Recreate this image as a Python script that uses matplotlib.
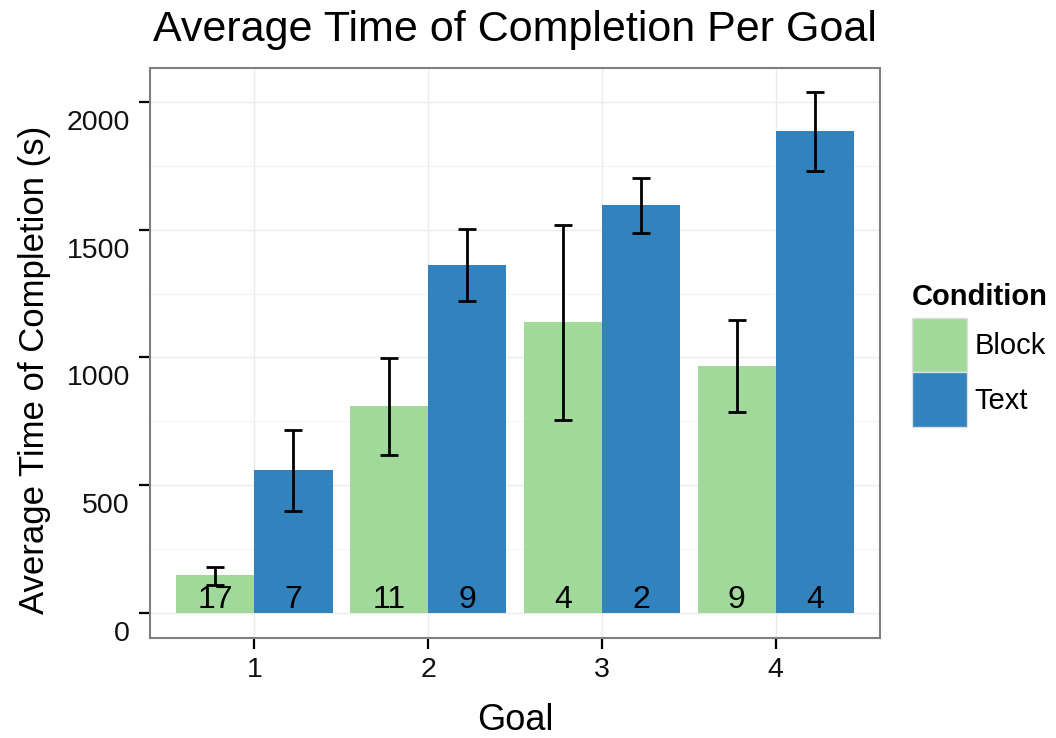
import matplotlib
matplotlib.use("Agg")
import matplotlib.pyplot as plt
import matplotlib.transforms as mtransforms
import numpy as np
from matplotlib.patches import Patch

plt.rcParams['font.family'] = ['Liberation Sans', 'DejaVu Sans']

goals = ["1", "2", "3", "4"]
conditions = ["Block", "Text"]
block_mean = [149, 810, 1139, 967]
block_lo = [110, 618, 755, 787]
block_hi = [180, 998, 1519, 1147]
text_mean = [560, 1362, 1597, 1887]
text_lo = [399, 1221, 1487, 1730]
text_hi = [716, 1503, 1703, 2039]
block_n = [17, 11, 4, 9]
text_n = [7, 9, 2, 4]
yticks = [0, 500, 1000, 1500, 2000]

green = "#a1d99b"
blue = "#3182bd"

fig = plt.figure(figsize=(10.56, 7.38), dpi=100)
ax = fig.add_axes([150/1056, 1-638/738, 730/1056, 570/738])

x = np.arange(1, len(goals)+1)
w = 0.45
series = [
    (block_mean, block_lo, block_hi, block_n, green, -w/2),
    (text_mean, text_lo, text_hi, text_n, blue, w/2),
]
for mean, lo, hi, n, col, off in series:
    xs = x + off
    ax.bar(xs, mean, width=w, color=col, zorder=2)
    mean_a = np.array(mean); lo_a = np.array(lo); hi_a = np.array(hi)
    ax.errorbar(xs, mean_a, yerr=[mean_a-lo_a, hi_a-mean_a], fmt='none',
                ecolor='black', elinewidth=2.0, capsize=6.8, capthick=2.0, zorder=3)
    for xi, ni in zip(xs, n):
        ax.text(xi, 20, str(ni), ha='center', va='baseline', fontsize=23, color='black', zorder=4)

ax.set_xlim(0.4, 4.6)
ax.set_ylim(-98, 2133)
ax.set_xticks(x)
ax.set_xticklabels(goals, fontsize=20.5, color='#111111')
ax.set_yticks(yticks)
ax.tick_params(axis='y', which='major', labelleft=False)
# y tick labels drawn slightly below their tick marks, as in the reference
ylab_tr = mtransforms.blended_transform_factory(ax.transAxes, ax.transData) + \
    mtransforms.ScaledTranslation(-20/100, -21/100, fig.dpi_scale_trans)
for v in yticks:
    ax.text(0, v, str(v), transform=ylab_tr, ha='right', va='center',
            fontsize=20.5, color='#111111')
ax.set_yticks([250, 750, 1250, 1750], minor=True)
ax.tick_params(axis='y', which='minor', length=0)
ax.tick_params(axis='both', which='major', length=8, width=1.6, color='black')
ax.tick_params(axis='x', pad=6)

ax.grid(True, which='major', color='#ebebeb', linewidth=1.0, zorder=0)
ax.grid(True, which='minor', axis='y', color='#f4f4f4', linewidth=0.8, zorder=0)
ax.set_axisbelow(True)
for s in ax.spines.values():
    s.set_color('#7f7f7f')
    s.set_linewidth(1.5)

fig.text(515/1056, 1-720/738, "Goal", fontsize=26, ha='center', va='center')
fig.text(35/1056, 1-370/738, "Average Time of Completion (s)", fontsize=25,
         ha='center', va='center', rotation=90)
fig.text(515/1056, 1-30/738, "Average Time of Completion Per Goal", fontsize=31,
         ha='center', va='center')

handles = [Patch(facecolor=green, edgecolor='#dddddd', label="Block"),
           Patch(facecolor=blue, edgecolor='#dddddd', label="Text")]
leg = fig.legend(handles=handles, title="Condition", loc='upper left',
                 bbox_to_anchor=(912/1056, 1-283/738), frameon=False,
                 fontsize=21, title_fontproperties={'weight': 'bold', 'size': 21},
                 handlelength=1.9, handleheight=2.5, handletextpad=0.25,
                 labelspacing=0.0, borderaxespad=0, borderpad=0)
leg._legend_box.align = "left"
leg._legend_box.sep = 5

fig.savefig("out.png", dpi=100)
